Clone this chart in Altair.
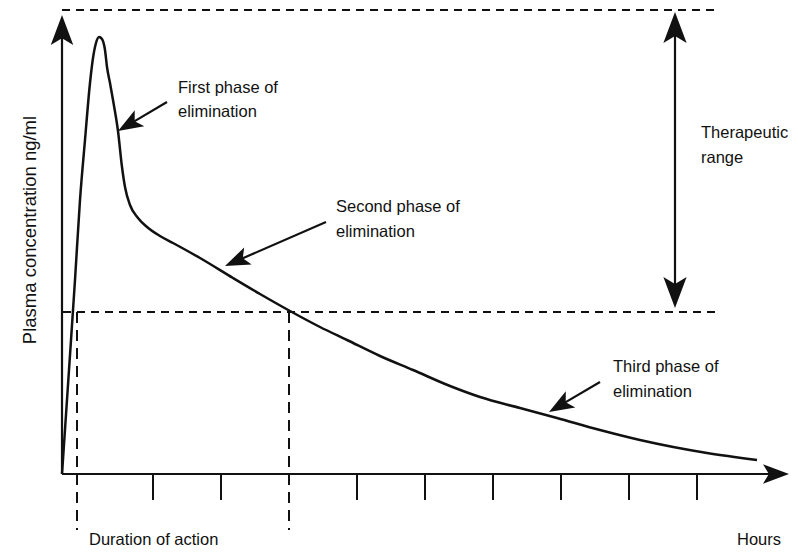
import math
import altair as alt
import pandas as pd

# ---- data (time units, concentration units) ----
time = [0, 7, 13, 18, 23, 28, 31, 34, 37, 40, 43, 45, 48, 51, 56, 60, 63, 68, 76, 85,
        98, 111, 138, 171, 198, 228, 258, 285, 318, 351, 388, 418, 458, 495, 538, 578, 645, 695]
conc = [0, 104, 194, 274, 334, 391, 416, 431, 437, 435, 424, 407, 391, 374, 343, 307, 287, 269, 256, 247,
        238, 231, 216, 196, 180, 163, 147, 134, 118, 104, 88, 77, 66, 56, 44, 34, 21, 14]

tick_times = [91, 159, 295, 363, 431, 499, 567, 635]
tick_low = -26

therapeutic_max = 464
therapeutic_min = 162
duration_start = 15
duration_end = 227
range_end = 657
dash_low = -56

# arrows: tail_t, tail_c, tip_t, tip_c, head length
arrow_tail_t = [0, 0, 613, 613, 105, 264, 538]
arrow_tail_c = [0, 0, 314, 314, 372, 252, 92]
arrow_tip_t = [0, 727, 613, 613, 56, 163, 487]
arrow_tip_c = [459, 0, 462, 166, 343, 208, 62]
arrow_head = [30, 26, 31, 31, 25, 25, 25]

label_text = ["First phase of", "elimination", "Second phase of", "elimination",
              "Therapeutic", "range", "Third phase of", "elimination",
              "Duration of action", "Hours"]
label_t = [116, 116, 274, 274, 639, 639, 551, 551, 27, 675]
label_c = [381, 357, 262, 237, 336, 311, 102, 77, -71, -71]

y_title = "Plasma concentration ng/ml"
y_title_t = -32
y_title_c = 244

# ---- build tables ----
curve = pd.DataFrame({"t": time, "c": conc})

heads, shafts = [], []
for t0, c0, t1, c1, L in zip(arrow_tail_t, arrow_tail_c, arrow_tip_t, arrow_tip_c, arrow_head):
    dt, dc = t1 - t0, c1 - c0
    n = math.hypot(dt, dc)
    ut, uc = dt / n, dc / n
    ct, cc = t1 - ut * L / 2, c1 - uc * L / 2
    ang = math.degrees(math.atan2(dt, dc)) % 360
    heads.append({"t": ct, "c": cc, "ang": ang, "sz": L * L})
    shafts.append({"t": t0, "t2": ct, "c": c0, "c2": cc})
heads = pd.DataFrame(heads)
shafts = pd.DataFrame(shafts)

dash_h = pd.DataFrame({"t": [0, 1], "t2": [range_end, range_end],
                       "c": [therapeutic_max, therapeutic_min], "c2": [therapeutic_max, therapeutic_min]})
dash_v = pd.DataFrame({"t": [duration_start, duration_end], "t2": [duration_start, duration_end],
                       "c": [therapeutic_min, therapeutic_min], "c2": [dash_low, dash_low]})
ticks = pd.DataFrame({"t": tick_times, "t2": tick_times,
                      "c": [0] * len(tick_times), "c2": [tick_low] * len(tick_times)})
labels = pd.DataFrame({"t": label_t, "c": label_c, "txt": label_text})
ytitle = pd.DataFrame({"t": [y_title_t], "c": [y_title_c], "txt": [y_title]})

W, H = 782, 541
xs = alt.Scale(domain=[-54, -54 + W], nice=False, zero=False)
ys = alt.Scale(domain=[-75, -75 + H], nice=False, zero=False)
X = lambda f="t": alt.X(f"{f}:Q", scale=xs, axis=None)
Y = lambda f="c": alt.Y(f"{f}:Q", scale=ys, axis=None)

ink = "#111111"
font = "Liberation Sans"

curve_l = alt.Chart(curve).mark_line(interpolate="monotone", color=ink, strokeWidth=2.5).encode(
    x=X(), y=Y(), order="t:Q")

shaft_l = alt.Chart(shafts).mark_rule(color=ink, strokeWidth=2.2).encode(
    x=X(), x2="t2:Q", y=Y(), y2="c2:Q")

head_l = alt.Chart(heads).mark_point(
    shape="M0,-1L0.75,1L0,0.55L-0.75,1Z", filled=True, color=ink, opacity=1, strokeWidth=0
).encode(x=X(), y=Y(), angle=alt.Angle("ang:Q", scale=None), size=alt.Size("sz:Q", scale=None))

dash_h_l = alt.Chart(dash_h).mark_rule(color=ink, strokeWidth=2, strokeDash=[8, 6]).encode(
    x=X(), x2="t2:Q", y=Y(), y2="c2:Q")
dash_v_l = alt.Chart(dash_v).mark_rule(color=ink, strokeWidth=2, strokeDash=[11, 7]).encode(
    x=X(), x2="t2:Q", y=Y(), y2="c2:Q")
tick_l = alt.Chart(ticks).mark_rule(color=ink, strokeWidth=2).encode(
    x=X(), x2="t2:Q", y=Y(), y2="c2:Q")

label_l = alt.Chart(labels).mark_text(
    align="left", baseline="alphabetic", font=font, fontSize=16.5, color=ink
).encode(x=X(), y=Y(), text="txt:N")

ytitle_l = alt.Chart(ytitle).mark_text(
    align="center", baseline="middle", font=font, fontSize=18.5, angle=270, color=ink
).encode(x=X(), y=Y(), text="txt:N")

chart = alt.layer(
    dash_h_l, dash_v_l, tick_l, shaft_l, curve_l, head_l, label_l, ytitle_l
).properties(
    width=W, height=H, padding=0, autosize=alt.AutoSizeParams(type="none")
).configure_view(strokeWidth=0)

chart.save("out.html", embed_options={"renderer": "svg", "actions": False})
